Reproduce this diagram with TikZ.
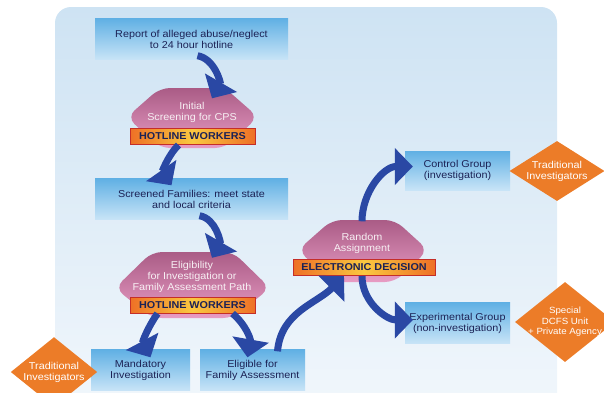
\documentclass[tikz,border=0pt]{standalone}
\usepackage{fontspec}
\setmainfont{Liberation Sans}[FakeStretch=1.08]
\usetikzlibrary{arrows.meta,shapes.geometric}

\definecolor{bgtop}{RGB}{206,227,243}
\definecolor{bgbot}{RGB}{242,247,252}
\definecolor{boxtop}{RGB}{96,176,228}
\definecolor{boxbot}{RGB}{200,228,247}
\definecolor{navy}{RGB}{28,34,85}
\definecolor{hextop}{RGB}{170,92,134}
\definecolor{hexbot}{RGB}{232,156,196}
\definecolor{barmid}{RGB}{250,200,64}
\definecolor{baredge}{RGB}{238,112,38}
\definecolor{barline}{RGB}{196,46,40}
\definecolor{agentfill}{RGB}{236,124,40}
\definecolor{arrowblue}{RGB}{42,72,164}

\begin{document}
\begin{tikzpicture}[x=1pt,y=1pt,>={Triangle[length=18pt,width=36pt]},
  every node/.style={font=\fontsize{10}{11}\selectfont,align=center},
  box/.style={top color=boxtop,bottom color=boxbot,text=navy,minimum height=41pt,inner sep=0pt},
  hex/.style={top color=hextop,bottom color=hexbot,rounded corners=10pt},
  screen/.style={text=white!90!hextop},
  bar/.style={left color=baredge,right color=baredge,middle color=barmid,draw=barline,line width=1pt,
    minimum width=125pt,minimum height=16pt,inner sep=0pt,font=\fontsize{10}{11}\selectfont\bfseries,text=navy},
  agent/.style={diamond,fill=agentfill,text=white,inner sep=0pt},
  flow/.style={->,line width=7pt,draw=arrowblue}]
\useasboundingbox (0,0) rectangle (604,-392);
\shade[top color=bgtop,bottom color=bgbot,rounded corners=16pt] (55,-7) rectangle (557,-420);

% screening shapes
\path[hex] (127,-117) -- (160,-88) -- (225,-88) -- (258,-117) -- (225,-148) -- (160,-148) -- cycle;
\path[hex] (115,-288) -- (152,-252) -- (233,-252) -- (270,-288) -- (233,-318) -- (152,-318) -- cycle;
\path[hex] (298,-250) -- (332,-220) -- (395,-220) -- (428,-250) -- (395,-282) -- (332,-282) -- cycle;

\node[box,minimum width=193pt] (rep) at (191.5,-39) {Report of alleged abuse/neglect\\to 24 hour hotline};
\node[screen] (init) at (192,-112) {Initial\\Screening for CPS};
\node[bar] (hot1) at (192.5,-136.5) {HOTLINE WORKERS};
\node[box,minimum width=193pt] (scr) at (191.5,-199) {Screened Families: meet state\\and local criteria};
\node[screen] (elig) at (192,-277) {Eligibility\\for Investigation or\\Family Assessment Path};
\node[bar] (hot2) at (192.5,-305) {HOTLINE WORKERS};
\node[box,minimum width=99pt] (mand) at (140.5,-370) {Mandatory\\Investigation};
\node[box,minimum width=105pt] (fam) at (252.5,-370) {Eligible for\\Family Assessment};
\node[screen] (rand) at (362,-243) {Random\\Assignment};
\node[bar,minimum width=142pt] (elec) at (364,-267.5) {ELECTRONIC DECISION};
\node[box,minimum width=105pt,minimum height=39pt] (ctrl) at (457.5,-170.5) {Control Group\\(investigation)};
\node[box,minimum width=105pt] (expt) at (457.5,-323) {Experimental Group\\(non-investigation)};
\node[agent,aspect=1.24,minimum width=84pt,minimum height=68pt] (trad1) at (54,-372) {Traditional\\Investigators};
\node[agent,aspect=1.58,minimum width=95pt,minimum height=60pt] (trad2) at (557,-171) {Traditional\\Investigators};
\node[agent,aspect=1.25,inner sep=-4pt,minimum width=100pt,minimum height=80pt,
  font=\fontsize{9}{10.5}\selectfont] (spec) at (565,-322) {Special\\DCFS Unit\\+ Private Agency};

\draw[flow] ([xshift=6pt,yshift=4pt]rep.south) to[out=-10,in=60] ([xshift=20pt]init.north);
\draw[flow] ([xshift=-14pt]hot1.south) to[out=-135,in=125] ([xshift=-20pt,yshift=-7pt]scr.north);
\draw[flow] ([xshift=8pt,yshift=4pt]scr.south) to[out=-10,in=60] ([xshift=20pt]elig.north);
\draw[flow] ([xshift=-35pt]hot2.south) to[out=-125,in=118] ([xshift=10pt,yshift=-8pt]mand.north);
\draw[flow] ([xshift=40pt]hot2.south) to[out=-40,in=80] ([xshift=-5pt,yshift=-8pt]fam.north);
\draw[flow] ([xshift=25pt,yshift=-2pt]fam.north) to[out=85,in=-135] ([xshift=-20pt]elec.south);
\draw[flow] ([yshift=8pt]rand.north) to[out=90,in=180] ([xshift=8pt,yshift=4pt]ctrl.west);
\draw[flow] ([xshift=-2pt]elec.south) to[out=-90,in=180] ([xshift=8pt,yshift=3pt]expt.west);
\end{tikzpicture}
\end{document}
